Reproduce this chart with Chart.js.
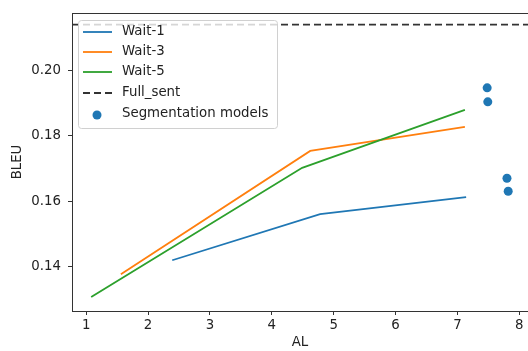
<!DOCTYPE html>
<html>
<head>
<meta charset="utf-8">
<script src="https://cdn.jsdelivr.net/npm/chart.js@4"></script>
<style>
  html, body { margin: 0; padding: 0; background: #fff; }
  #wrap { width: 528px; height: 351px; }
</style>
</head>
<body>
<div id="wrap"><canvas id="chart" width="528" height="351"></canvas></div>
<script>
// values
const wait1AL = [2.39, 4.78, 7.14];
const wait1BLEU = [0.1418, 0.1560, 0.1612];
const wait3AL = [1.56, 4.62, 7.12];
const wait3BLEU = [0.1375, 0.1754, 0.1828];
const wait5AL = [1.08, 4.49, 7.12];
const wait5BLEU = [0.1305, 0.1702, 0.1880];
const segAL = [7.48, 7.49, 7.80, 7.82];
const segBLEU = [0.1948, 0.1905, 0.1670, 0.1630];
const fullSentBLEU = 0.2142;

const xTicks = [1, 2, 3, 4, 5, 6, 7, 8];
const yTicks = [0.14, 0.16, 0.18, 0.20];
const xMin = 0.77, xMax = 8.14;
const yMin = 0.1262, yMax = 0.2178;

const FONT = { family: 'DejaVu Sans', size: 13.33 };
const TEXT = '#222';

function pts(xs, ys) {
    return xs.map((x, i) => ({ x: x, y: ys[i] }));
}

// no label padding, the axes run off the right edge like in the original
function noPad(s) {
    s.paddingLeft = 0; s.paddingRight = 0; s.paddingTop = 0; s.paddingBottom = 0;
}

// legend drawn inside the axes, like matplotlib's "best" location
const innerLegend = {
    id: 'innerLegend',
    afterDatasetsDraw(chart) {
        const ctx = chart.ctx;
        const area = chart.chartArea;
        // top spine
        ctx.save();
        ctx.strokeStyle = '#333';
        ctx.lineWidth = 1;
        ctx.beginPath();
        ctx.moveTo(area.left, area.top + 0.5);
        ctx.lineTo(area.right, area.top + 0.5);
        ctx.stroke();

        const bx = area.left + 6, by = area.top + 7, bw = 199, bh = 108;
        ctx.fillStyle = 'rgba(255,255,255,0.8)';
        ctx.strokeStyle = '#d0d0d0';
        ctx.beginPath();
        ctx.roundRect(bx + 0.5, by + 0.5, bw, bh, 3);
        ctx.fill();
        ctx.stroke();

        ctx.font = FONT.size + 'px ' + FONT.family;
        ctx.textBaseline = 'middle';
        ctx.fillStyle = TEXT;
        const rows = [12, 32, 52, 73, 94];
        chart.data.datasets.forEach((ds, i) => {
            const y = by + rows[i];
            if (ds.showLine) {
                ctx.strokeStyle = ds.borderColor;
                ctx.lineWidth = ds.borderWidth;
                ctx.setLineDash(ds.borderDash || []);
                ctx.beginPath();
                ctx.moveTo(bx + 5, y);
                ctx.lineTo(bx + 34, y);
                ctx.stroke();
                ctx.setLineDash([]);
            } else {
                ctx.fillStyle = ds.backgroundColor;
                ctx.beginPath();
                ctx.arc(bx + 19, y + 1, 4.5, 0, Math.PI * 2);
                ctx.fill();
            }
            ctx.fillStyle = TEXT;
            ctx.fillText(ds.label, bx + 44, y);
        });
        ctx.restore();
    }
};

const lineDs = (label, xs, ys, color, order) => ({
    label: label,
    data: pts(xs, ys),
    showLine: true,
    borderColor: color,
    backgroundColor: color,
    borderWidth: 1.8,
    pointRadius: 0,
    order: order
});

new Chart(document.getElementById('chart').getContext('2d'), {
    type: 'scatter',
    data: {
        datasets: [
            lineDs('Wait-1', wait1AL, wait1BLEU, '#1f77b4', 5),
            lineDs('Wait-3', wait3AL, wait3BLEU, '#ff7f0e', 4),
            lineDs('Wait-5', wait5AL, wait5BLEU, '#2ca02c', 3),
            Object.assign(lineDs('Full_sent', [xMin, xMax], [fullSentBLEU, fullSentBLEU], '#333', 2), { borderDash: [7, 4] }),
            {
                label: 'Segmentation models',
                data: pts(segAL, segBLEU),
                showLine: false,
                backgroundColor: '#1f77b4',
                borderWidth: 0,
                pointRadius: 4.5,
                order: 1
            }
        ]
    },
    options: {
        responsive: false,
        animation: false,
        layout: { autoPadding: false, padding: { top: 13, right: 0, left: 0, bottom: 0 } },
        plugins: { legend: { display: false }, tooltip: { enabled: false } },
        scales: {
            x: {
                type: 'linear',
                min: xMin,
                max: xMax,
                afterBuildTicks: s => { s.ticks = xTicks.map(v => ({ value: v })); },
                afterFit: s => { s.height = 40; noPad(s); },
                grid: { drawOnChartArea: false, drawTicks: true, tickLength: 4, color: '#333' },
                border: { display: true, color: '#333' },
                ticks: { font: FONT, color: TEXT, padding: 3, maxRotation: 0, callback: v => String(v) },
                title: { display: true, text: 'AL', font: FONT, color: TEXT, padding: { top: 0, bottom: 0 } }
            },
            y: {
                type: 'linear',
                min: yMin,
                max: yMax,
                afterBuildTicks: s => { s.ticks = yTicks.map(v => ({ value: v })); },
                afterFit: s => { s.width = 72; noPad(s); },
                grid: { drawOnChartArea: false, drawTicks: true, tickLength: 4, color: '#333' },
                border: { display: true, color: '#333' },
                ticks: { font: FONT, color: TEXT, padding: 7, callback: v => v.toFixed(2) },
                title: { display: true, text: 'BLEU', font: FONT, color: TEXT, padding: { top: 10, bottom: 0 } }
            }
        }
    },
    plugins: [innerLegend]
});
</script>
</body>
</html>
